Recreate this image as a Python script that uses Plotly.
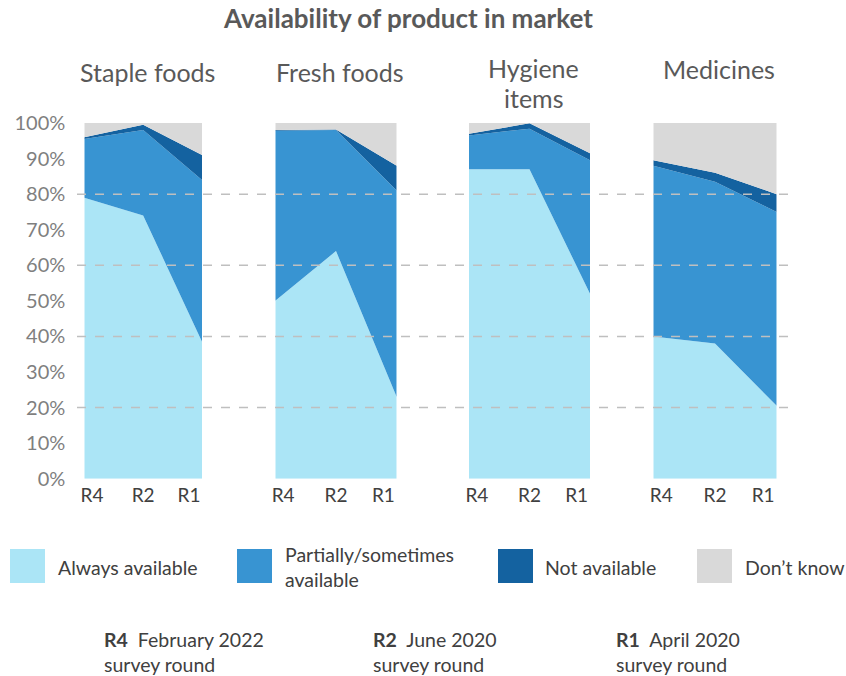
import plotly.graph_objects as go

# ---- data ----
panels = ["Staple foods", "Fresh foods", "Hygiene<br>items", "Medicines"]
rounds = ["R4", "R2", "R1"]
series_names = ["Always available", "Partially/sometimes<br>available", "Not available", "Don’t know"]

always_available = {
    "Staple foods": [79, 74, 38.5],
    "Fresh foods": [50, 64, 23],
    "Hygiene<br>items": [87, 87, 52],
    "Medicines": [40, 38, 20.5],
}
partially_available = {
    "Staple foods": [16.5, 24, 45.5],
    "Fresh foods": [47.8, 34, 58],
    "Hygiene<br>items": [9.5, 11.4, 37.5],
    "Medicines": [48, 45.5, 54.5],
}
not_available = {
    "Staple foods": [0.5, 1.5, 7],
    "Fresh foods": [0.2, 0.2, 7],
    "Hygiene<br>items": [0.5, 1.5, 2],
    "Medicines": [1.5, 2.5, 5],
}
dont_know = {
    "Staple foods": [4, 0.5, 9],
    "Fresh foods": [2, 1.8, 12],
    "Hygiene<br>items": [3, 0.1, 8.5],
    "Medicines": [10.5, 14, 20],
}
y_ticks = list(range(0, 101, 10))
grid_levels = [20, 40, 60, 80]
footnotes = [("R4", "February 2022"), ("R2", "June 2020"), ("R1", "April 2020")]

# ---- style ----
colors = ["#ABE5F6", "#3894D2", "#1462A0", "#D9D9D9"]
W, H = 846, 676
FONT = "Lato"
x_domains = [(84.3, 202), (275.3, 396.7), (469, 590), (653.3, 776.7)]
y_bottom, y_top = 478.7, 123


def px(x):
    return x / W


def py(y):
    return 1 - y / H


fig = go.Figure()
series = [always_available, partially_available, not_available, dont_know]
x_pos = [0, 1, 2]
for i, p in enumerate(panels):
    ax = "" if i == 0 else str(i + 1)
    for s, (name, data) in enumerate(zip(series_names, series)):
        fig.add_trace(go.Scatter(
            x=x_pos, y=data[p], name=name.replace("<br>", " "), mode="lines",
            line=dict(width=0, color=colors[s]), fillcolor=colors[s],
            stackgroup="g" + str(i), xaxis="x" + ax, yaxis="y" + ax,
            showlegend=False, hoverinfo="skip",
        ))

layout = dict(
    width=W, height=H, margin=dict(l=0, r=0, t=0, b=0, pad=0, autoexpand=False),
    plot_bgcolor="white", paper_bgcolor="white", template="none",
    font=dict(family=FONT, color="#404040"),
)
for i in range(4):
    ax = "" if i == 0 else str(i + 1)
    x0, x1 = x_domains[i]
    layout["xaxis" + ax] = dict(
        domain=[px(x0), px(x1)], range=[0, 2], anchor="y" + ax,
        tickvals=[0.13, 1, 1.78], ticktext=rounds, showgrid=False,
        zeroline=False, showline=False, ticks="", automargin=False,
        tickfont=dict(size=19, color="#404040", family=FONT),
        ticklabelstandoff=3, fixedrange=True,
    )
    layout["yaxis" + ax] = dict(
        domain=[py(y_bottom), py(y_top)], range=[0, 100], anchor="x" + ax,
        showgrid=False, zeroline=False, showline=False, ticks="", automargin=False,
        tickvals=y_ticks, ticktext=[f"{v}%" for v in y_ticks],
        showticklabels=(i == 0), ticklabelstandoff=18,
        tickfont=dict(size=20, color="#7F7F7F", family=FONT),
        fixedrange=True,
    )
fig.update_layout(**layout)

shapes = []
for g in grid_levels:
    shapes.append(dict(type="line", xref="paper", yref="y", x0=px(77), x1=px(793),
                       y0=g, y1=g, layer="above",
                       line=dict(color="#BFBFBF", width=1.5, dash="dash")))

annotations = []


def add_text(text, x, y, size, color, xanchor="left"):
    annotations.append(dict(text=text, x=px(x), y=py(y),
                            xanchor=xanchor, yanchor="middle", align=xanchor if xanchor != "center" else "center",
                            xref="paper", yref="paper", showarrow=False,
                            font=dict(size=size, color=color, family=FONT)))


# title
add_text("<b>Availability of product in market</b>", 408, 18, 26, "#595959", "center")
# panel titles
title_y = [72, 72, 68, 69]
for i, p in enumerate(panels):
    x0, x1 = x_domains[i]
    for j, ln in enumerate(p.split("<br>")):
        add_text(ln, (x0 + x1) / 2 + 4, title_y[i] + 30 * j, 25, "#595959", "center")

# legend
sw_x = [10, 237, 498, 697]
tx_x = [56, 283, 543, 743]
for k in range(4):
    shapes.append(dict(type="rect", xref="paper", yref="paper",
                       x0=px(sw_x[k]), x1=px(sw_x[k] + 35), y0=py(583), y1=py(549),
                       fillcolor=colors[k], line=dict(width=0)))
    add_text(series_names[k], tx_x[k], 567, 19.5, "#404040")

# footnotes
fx = [102, 371, 614]
for k, (r, d) in enumerate(footnotes):
    add_text(f"<b>{r}</b>  {d}<br>survey round", fx[k], 652, 19.5, "#404040")

fig.update_layout(shapes=shapes, annotations=annotations)
fig.write_html("out.html", config={"displayModeBar": False, "staticPlot": True},
               post_script="document.body.style.margin='0';")
